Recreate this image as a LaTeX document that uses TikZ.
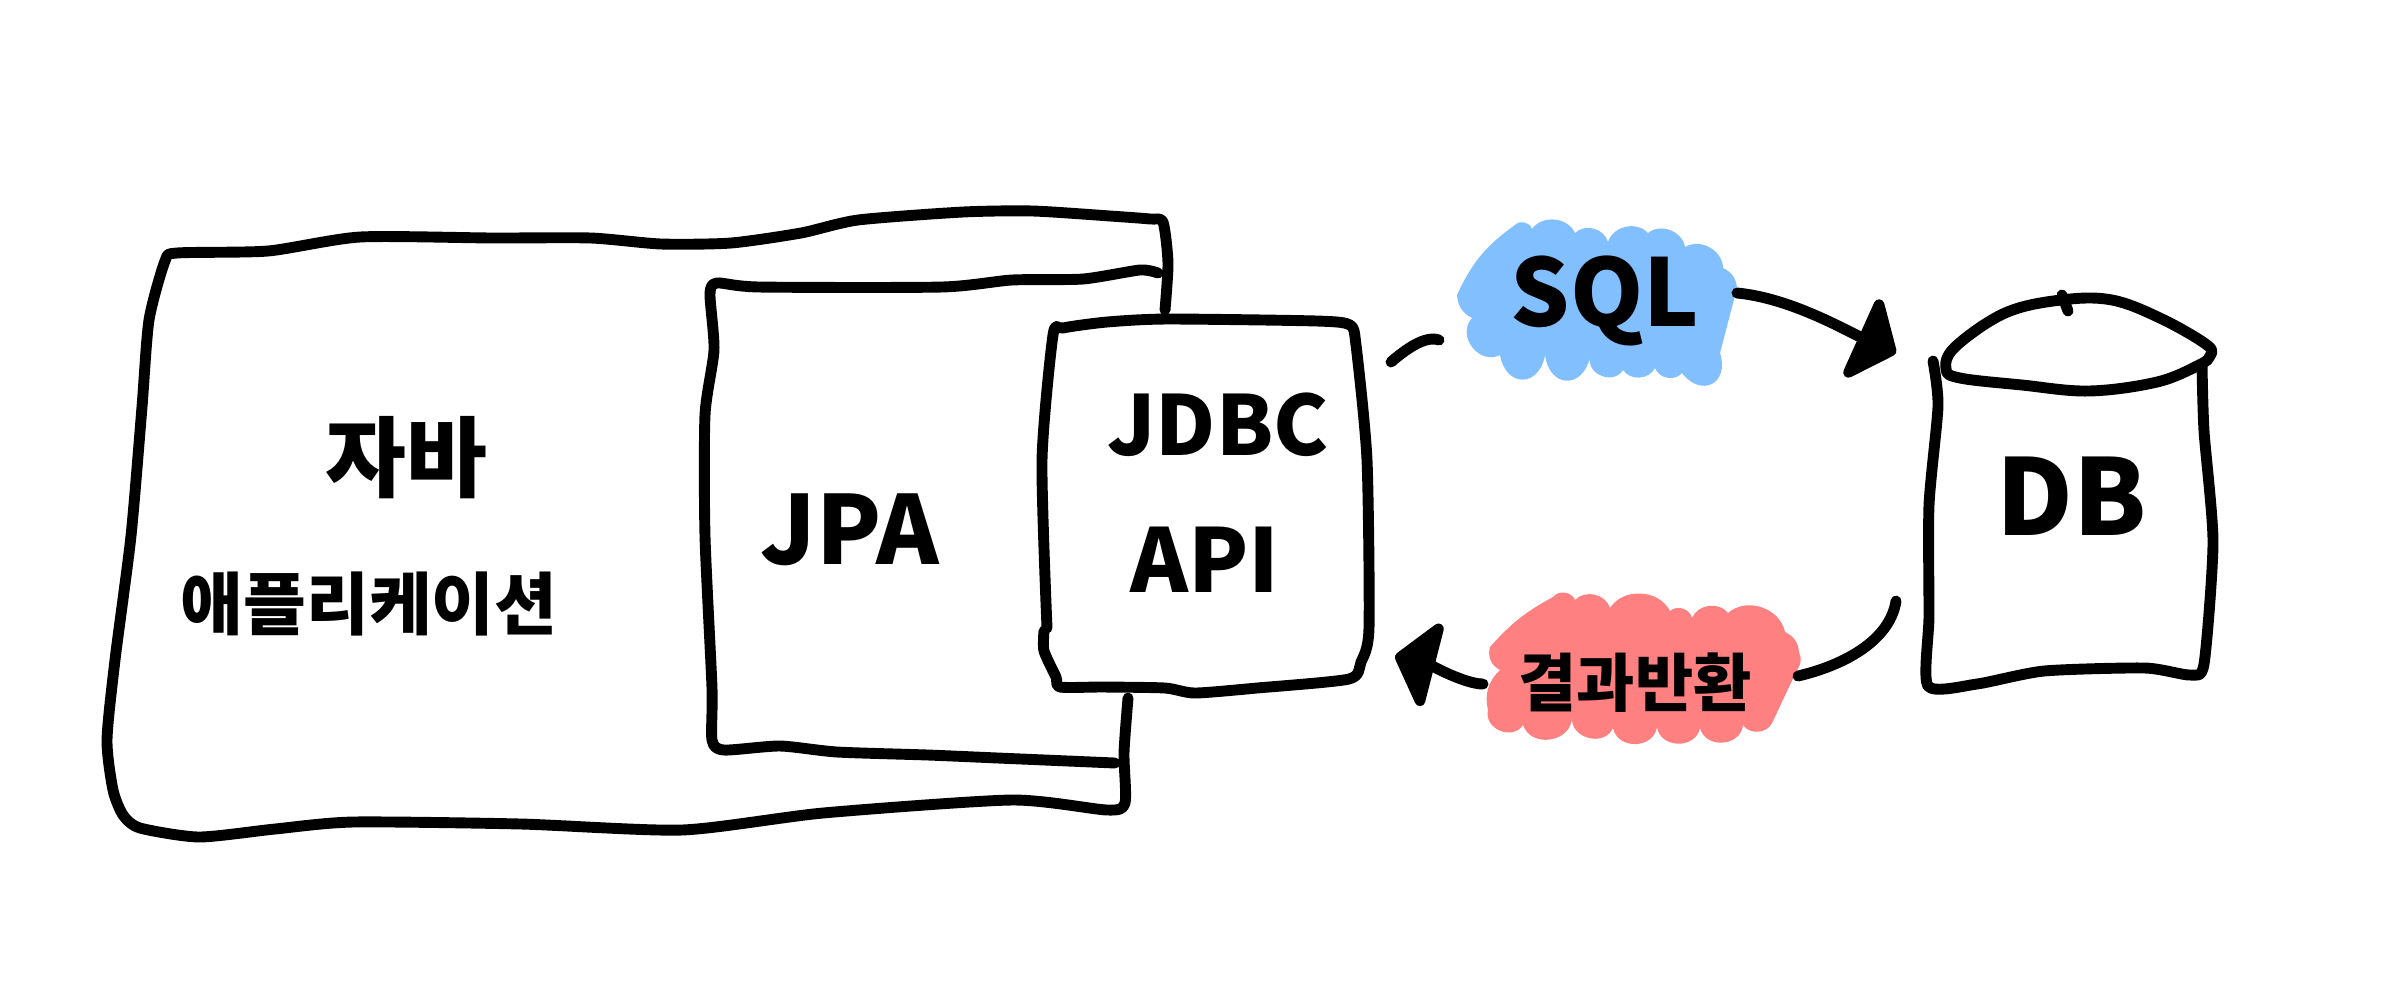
\documentclass[tikz,border=0pt]{standalone}
\usepackage{fontspec}
\setmainfont{Noto Sans CJK KR}
\usepackage{xcolor}
\usetikzlibrary{arrows.meta}

\definecolor{sqlblue}{HTML}{82BFFF}
\definecolor{resultred}{HTML}{FF8080}

\begin{document}
\begin{tikzpicture}[
  x=0.01cm, y=-0.01cm,
  font=\bfseries,
  pen/.style={line width=3.1pt, line cap=round, line join=round},
  arr/.style={pen, -{Triangle[round, length=12pt, width=29pt]}},
  lbl/.style={inner sep=0pt, align=center},
  bump/.style={bend left=80, looseness=#1},
  bump/.default=1.9,
  lump/.style={bend left=60, looseness=1.05},
]
\useasboundingbox (0,0) rectangle (2403,999);

\draw[pen] plot[smooth, tension=0.4] coordinates {(1165,310) (1168,263) (1163,222) (1150,219) (1110,216) (1033,211) (963,212) (858,220) (801,233) (731,243) (661,244) (591,238) (493,238) (360,237) (268,251) (177,253) (165,261) (149,320) (142,407) (131,536) (115,660) (107,740) (113,790) (123,815) (140,828) (199,837) (275,829) (353,822) (521,824) (682,830) (823,813) (1012,800) (1107,810) (1125,803) (1124,753) (1128,698)};
\draw[pen] plot[smooth, tension=0.4] coordinates {(1158,273) (1140,270) (1083,279) (1012,280) (942,287) (759,287) (717,283) (710,294) (714,350) (705,415) (705,536) (712,688) (712,740) (724,750) (780,746) (837,752) (928,755) (998,758) (1115,763)};
\draw[pen] plot[smooth, tension=0.4] coordinates {(1044,631) (1044,651) (1056,677) (1060,687) (1103,687) (1165,688) (1195,693) (1257,688) (1349,679) (1361,662) (1369,628) (1367,460) (1356,345) (1350,325) (1317,321) (1167,319) (1107,322) (1063,328) (1053,335) (1042,460) (1047,628)};

\draw[pen] plot[smooth cycle, tension=0.6] coordinates {(1946,369) (1955,347) (2005,313) (2061,300) (2112,300) (2162,319) (2207,345) (2210,356) (2199,365) (2157,382) (2089,391) (2022,385) (1960,378)};
\draw[pen] (2062,295) -- (2068,311);
\draw[pen] plot[smooth, tension=0.4] coordinates {(1933,361) (1938,406) (1929,505) (1929,616) (1928,686) (1977,684) (2044,671) (2145,668) (2190,675) (2204,664) (2213,542) (2204,431) (2202,365)};

\fill[sqlblue] (1457,295) to[bend left=15] (1515,225) to[lump] (1532,229) to[lump] (1575,233) to[lump] (1608,242) to[lump] (1648,233) to[lump] (1685,247) to[lump] (1723,268) to[bend left=30] (1737,288) -- (1720,353) to[bump] (1682,373) to[lump] (1655,368) to[lump] (1623,370) to[bump=1.3] (1590,357) to[bump] (1545,355) to[bump] (1500,355) to[bump=1.3] (1472,318) to[bend left=30] cycle;
\fill[resultred] (1490,647) to[bend left=10] (1553,597) to[lump] (1575,600) to[lump] (1610,608) to[lump] (1670,611) to[lump] (1692,618) to[lump] (1728,613) to[lump] (1785,632) to[bend left=30] (1799,652) to[bend left=30] (1797,670) -- (1772,723) to[lump] (1743,725) to[bump=1.3] (1700,728) to[bump=1.3] (1657,727) to[bump=1.3] (1613,728) to[bump=1.3] (1572,717) to[bump=1.3] (1523,725) to[bump=1.3] (1488,710) to[bend left=30] (1500,670) to[bend left=40] cycle;

\node[lbl, font=\bfseries\fontsize{25}{30}\selectfont] (java) at (406,458) {자바};
\node[lbl, font=\bfseries\fontsize{19.4}{23}\selectfont] (app) at (369,604) {애플리케이션};
\node[lbl, font=\bfseries\fontsize{27}{32}\selectfont] (jpa) at (850,530) {JPA};
\node[lbl, font=\bfseries\fontsize{23.5}{28}\selectfont] (jdbc) at (1218,425) {JDBC};
\node[lbl, font=\bfseries\fontsize{25}{30}\selectfont] (api) at (1205,560) {API};
\node[lbl, font=\bfseries\fontsize{26.5}{32}\selectfont] (sql) at (1605,301) {SQL};
\node[lbl, font=\bfseries\fontsize{18}{22}\selectfont] (result) at (1635,683) {결과반환};
\node[lbl, font=\bfseries\fontsize{30}{36}\selectfont] (db) at (2072,496) {DB};

\coordinate (jdbcout) at (1391,362);
\coordinate (sqlin) at (1439,340);
\coordinate (sqlout) at (1737,293);
\coordinate (dbin) at (1896,353);
\coordinate (dbout) at (1896,601);
\coordinate (resultin) at (1798,676);
\coordinate (resultout) at (1483,684);
\coordinate (jdbcin) at (1395,656);

\draw[pen] (jdbcout) .. controls (1405,350) and (1425,335) .. (sqlin);
\draw[arr] (sqlout) .. controls (1790,298) and (1845,330) .. (dbin);
\draw[pen] (dbout) .. controls (1890,640) and (1845,665) .. (resultin);
\draw[arr] (resultout) .. controls (1465,684) and (1430,665) .. (jdbcin);
\end{tikzpicture}
\end{document}
